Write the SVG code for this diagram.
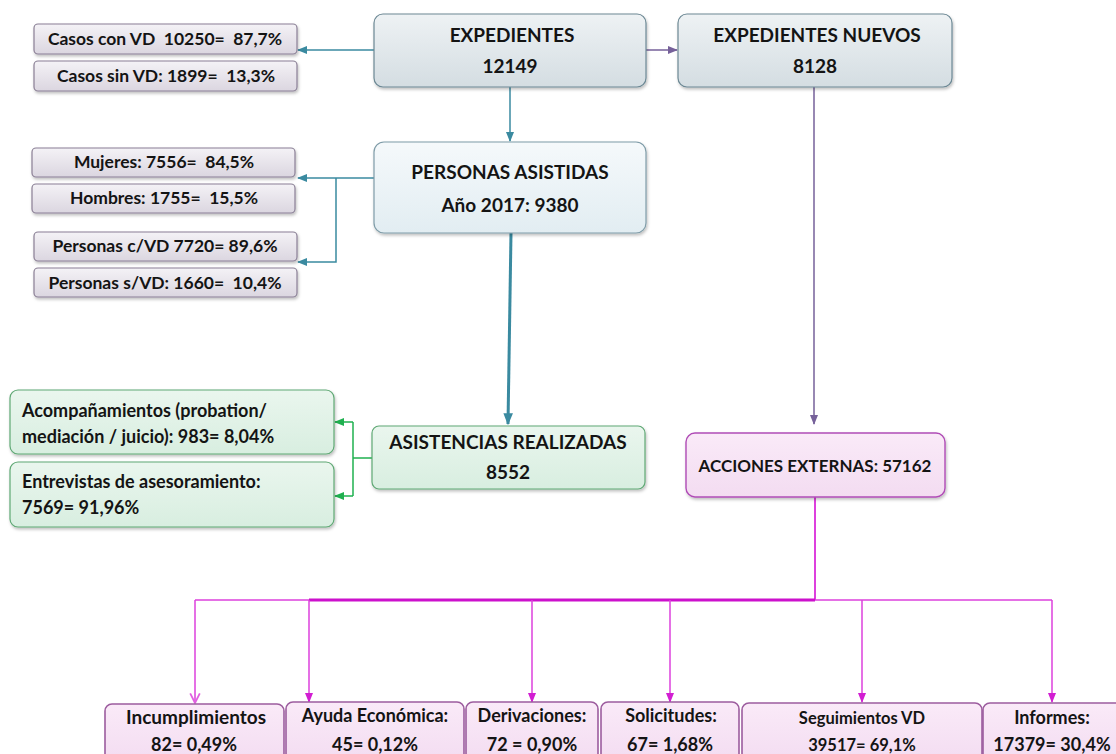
<svg xmlns="http://www.w3.org/2000/svg" width="1116" height="754" viewBox="0 0 1116 754">
<defs>
<linearGradient id="gGray" x1="0" y1="0" x2="0" y2="1"><stop offset="0" stop-color="#f4f2f6"/><stop offset="1" stop-color="#dbd6e0"/></linearGradient>
<linearGradient id="gExp" x1="0" y1="0" x2="0" y2="1"><stop offset="0" stop-color="#eef2f4"/><stop offset="1" stop-color="#d4dde2"/></linearGradient>
<linearGradient id="gPers" x1="0" y1="0" x2="0" y2="1"><stop offset="0" stop-color="#f5f9fb"/><stop offset="1" stop-color="#e2edf2"/></linearGradient>
<linearGradient id="gGreen" x1="0" y1="0" x2="0" y2="1"><stop offset="0" stop-color="#eaf6ee"/><stop offset="1" stop-color="#d8eee0"/></linearGradient>
<linearGradient id="gPink" x1="0" y1="0" x2="0" y2="1"><stop offset="0" stop-color="#faeaf8"/><stop offset="1" stop-color="#f3dcf1"/></linearGradient>
<filter id="sh" x="-10%" y="-10%" width="120%" height="130%"><feDropShadow dx="1" dy="2" stdDeviation="1.5" flood-color="#000" flood-opacity="0.25"/></filter>
<marker id="aTeal" viewBox="0 0 10 10" refX="9" refY="5" markerWidth="10" markerHeight="10" markerUnits="userSpaceOnUse" orient="auto"><path d="M0,1 L10,5 L0,9 z" fill="#3a8aa0"/></marker>
<marker id="aTealB" viewBox="0 0 10 10" refX="9" refY="5" markerWidth="12" markerHeight="12" markerUnits="userSpaceOnUse" orient="auto"><path d="M0,1 L10,5 L0,9 z" fill="#3a8aa0"/></marker>
<marker id="aPurple" viewBox="0 0 10 10" refX="9" refY="5" markerWidth="10" markerHeight="10" markerUnits="userSpaceOnUse" orient="auto"><path d="M0,1 L10,5 L0,9 z" fill="#76619a"/></marker>
<marker id="aGreen" viewBox="0 0 10 10" refX="9" refY="5" markerWidth="10" markerHeight="10" markerUnits="userSpaceOnUse" orient="auto"><path d="M0,1 L10,5 L0,9 z" fill="#1fb04f"/></marker>
<marker id="aMag" viewBox="0 0 10 10" refX="9" refY="5" markerWidth="10" markerHeight="10" markerUnits="userSpaceOnUse" orient="auto"><path d="M0,1 L10,5 L0,9 z" fill="#d21ed2"/></marker>
<marker id="aMagOpen" viewBox="0 0 10 10" refX="9" refY="5" markerWidth="12" markerHeight="12" markerUnits="userSpaceOnUse" orient="auto"><path d="M1,1 L9,5 L1,9" fill="none" stroke="#e060e0" stroke-width="1.5"/></marker>
</defs>
<style>
text{font-family:Lato,"Open Sans","Liberation Sans",sans-serif;font-weight:bold;fill:#141414;white-space:pre}
.c{text-anchor:middle}
.sm{font-size:17.5px}
.big{font-size:19px}
.mid{font-size:18px}
.acc{font-size:17px}
.bot{font-size:18px}
.bGray{fill:url(#gGray);stroke:#8a7f95;stroke-width:1.2}
.bExp{fill:url(#gExp);stroke:#6c8894;stroke-width:1.2}
.bPers{fill:url(#gPers);stroke:#7f9ca8;stroke-width:1.2}
.bGreen{fill:url(#gGreen);stroke:#5fa874;stroke-width:1.2}
.bPink{fill:url(#gPink);stroke:#b04cb6;stroke-width:1.4}
.bBot{fill:url(#gPink);stroke:#9c5c9e;stroke-width:1.6}
.lt{fill:none;stroke:#3a8aa0;stroke-width:1.5}
.lp{fill:none;stroke:#76619a;stroke-width:1.5}
.lg{fill:none;stroke:#1fb04f;stroke-width:1.5}
.lm{fill:none;stroke:#dd40dd;stroke-width:1.5}
.lmT{fill:none;stroke:#cc10cc;stroke-width:3}
</style>

<g id="connectors">
<path class="lt" d="M374,50 H298" marker-end="url(#aTeal)"/>
<path class="lp" d="M646,50 H677" marker-end="url(#aPurple)"/>
<path class="lt" d="M510,87 V141" marker-end="url(#aTeal)"/>
<path class="lt" d="M374,178 H298" marker-end="url(#aTeal)"/>
<path class="lt" d="M336,178 V262 H298" marker-end="url(#aTeal)"/>
<path fill="none" stroke="#3a8aa0" stroke-width="3" d="M511,233 L508,424" marker-end="url(#aTealB)"/>
<path class="lp" d="M814,87 V424" marker-end="url(#aPurple)"/>
<path class="lg" d="M372,458 H353"/>
<path class="lg" d="M353,422 V496"/>
<path class="lg" d="M353,422 H335" marker-end="url(#aGreen)"/>
<path class="lg" d="M353,496 H335" marker-end="url(#aGreen)"/>
<path class="lm" d="M815,497 V600" style="stroke-width:2"/>
<path class="lmT" d="M309,600 H815"/>
<path class="lm" d="M815,600 H1052"/>
<path class="lm" d="M309,600 H195"/>
<path class="lm" d="M195,600 V703" marker-end="url(#aMagOpen)"/>
<path class="lm" d="M309,600 V702" marker-end="url(#aMag)"/>
<path class="lm" d="M532,600 V702" marker-end="url(#aMag)"/>
<path class="lm" d="M670,600 V702" marker-end="url(#aMag)"/>
<path class="lm" d="M862,600 V702" marker-end="url(#aMag)"/>
<path class="lm" d="M1052,600 V702" marker-end="url(#aMag)"/>
</g>

<g id="casos-con-vd"><rect class="bGray" x="34" y="24" width="263" height="30" rx="4" filter="url(#sh)"/><text class="c sm" x="165" y="45">Casos con VD  10250=  87,7%</text></g>
<g id="casos-sin-vd"><rect class="bGray" x="34" y="61" width="263" height="30" rx="4" filter="url(#sh)"/><text class="c sm" x="166" y="82">Casos sin VD: 1899=  13,3%</text></g>

<g id="expedientes"><rect class="bExp" x="374" y="14" width="272" height="73" rx="9" filter="url(#sh)"/><text class="c big" x="512" y="42">EXPEDIENTES</text><text class="c big" x="510" y="73">12149</text></g>
<g id="expedientes-nuevos"><rect class="bExp" x="678" y="14" width="274" height="73" rx="9" filter="url(#sh)"/><text class="c big" x="817" y="42">EXPEDIENTES NUEVOS</text><text class="c big" x="815" y="73">8128</text></g>

<g id="personas-asistidas"><rect class="bPers" x="374" y="142" width="272" height="91" rx="10" filter="url(#sh)"/><text class="c big" x="510" y="179">PERSONAS ASISTIDAS</text><text class="c big" x="510" y="212">Año 2017: 9380</text></g>

<g id="mujeres"><rect class="bGray" x="32" y="148" width="263" height="29" rx="4" filter="url(#sh)"/><text class="c sm" x="164" y="168">Mujeres: 7556=  84,5%</text></g>
<g id="hombres"><rect class="bGray" x="32" y="184" width="263" height="29" rx="4" filter="url(#sh)"/><text class="c sm" x="164" y="204">Hombres: 1755=  15,5%</text></g>
<g id="personas-cvd"><rect class="bGray" x="34" y="232" width="263" height="29" rx="4" filter="url(#sh)"/><text class="c sm" x="165" y="252">Personas c/VD 7720= 89,6%</text></g>
<g id="personas-svd"><rect class="bGray" x="34" y="268" width="263" height="29" rx="4" filter="url(#sh)"/><text class="c sm" x="165" y="289">Personas s/VD: 1660=  10,4%</text></g>

<g id="acompanamientos"><rect class="bGreen" x="10" y="390" width="324" height="64" rx="8" filter="url(#sh)"/><text class="mid" x="22" y="417">Acompañamientos (probation/</text><text class="mid" x="22" y="443">mediación / juicio): 983= 8,04%</text></g>
<g id="entrevistas"><rect class="bGreen" x="10" y="462" width="324" height="65" rx="8" filter="url(#sh)"/><text class="mid" x="22" y="488">Entrevistas de asesoramiento:</text><text class="mid" x="22" y="514">7569= 91,96%</text></g>

<g id="asistencias"><rect class="bGreen" x="372" y="426" width="273" height="63" rx="7" filter="url(#sh)"/><text class="c big" x="508" y="449">ASISTENCIAS REALIZADAS</text><text class="c big" x="508" y="479">8552</text></g>

<g id="acciones-externas"><rect class="bPink" x="686" y="433" width="259" height="64" rx="9" filter="url(#sh)"/><text class="c acc" x="815" y="472">ACCIONES EXTERNAS: 57162</text></g>

<g id="incumplimientos"><rect class="bBot" x="105" y="704" width="179" height="60" rx="7"/><text class="c bot" x="196" y="724" style="font-size:19px">Incumplimientos</text><text class="c bot" x="194" y="751">82= 0,49%</text></g>
<g id="ayuda"><rect class="bBot" x="286" y="702" width="178" height="62" rx="7"/><text class="c bot" x="375" y="722">Ayuda Económica:</text><text class="c bot" x="375" y="751">45= 0,12%</text></g>
<g id="derivaciones"><rect class="bBot" x="466" y="702" width="132" height="62" rx="7"/><text class="c bot" x="532" y="722">Derivaciones:</text><text class="c bot" x="532" y="751">72 = 0,90%</text></g>
<g id="solicitudes"><rect class="bBot" x="601" y="702" width="138" height="62" rx="7"/><text class="c bot" x="671" y="722">Solicitudes:</text><text class="c bot" x="670" y="751">67= 1,68%</text></g>
<g id="seguimientos"><rect class="bBot" x="742" y="703" width="240" height="61" rx="7"/><text class="c bot" x="862" y="724" style="font-size:16.5px">Seguimientos VD</text><text class="c bot" x="862" y="751" style="font-size:16.5px">39517= 69,1%</text></g>
<g id="informes"><rect class="bBot" x="983" y="703" width="140" height="61" rx="7"/><text class="c bot" x="1052" y="724">Informes:</text><text class="c bot" x="1052" y="751">17379= 30,4%</text></g>
</svg>
